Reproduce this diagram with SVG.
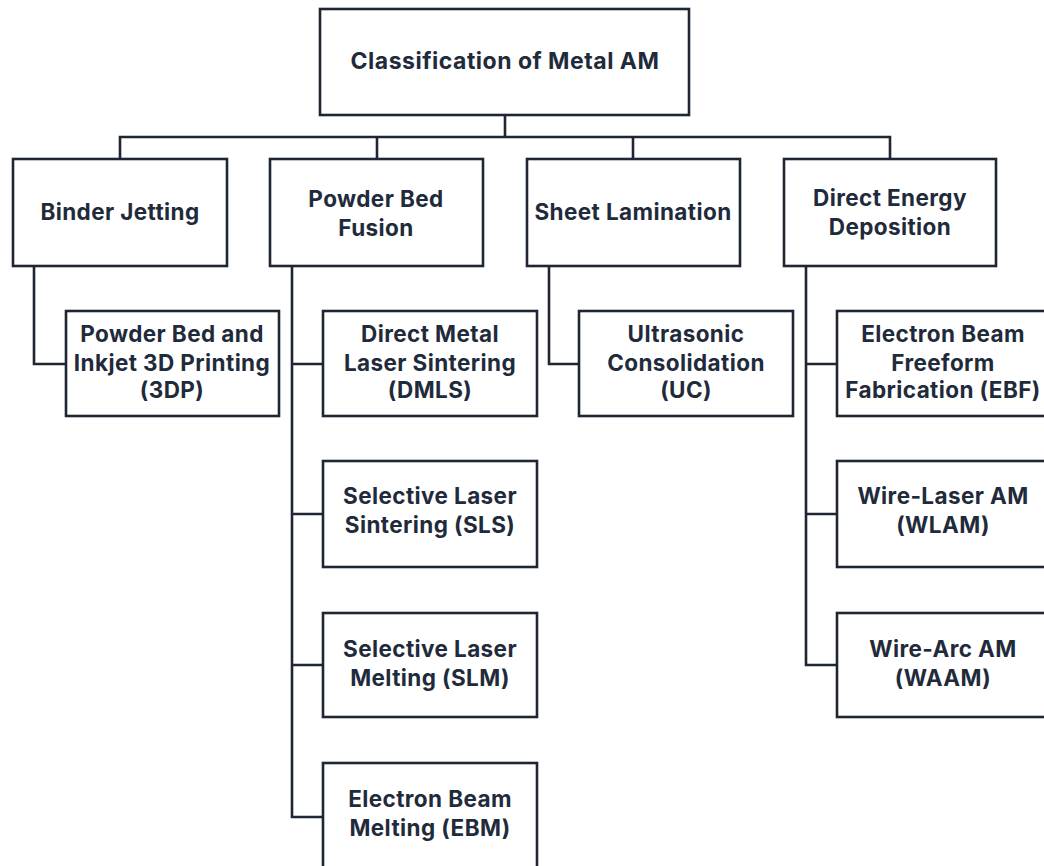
<svg xmlns="http://www.w3.org/2000/svg" width="1044" height="866" viewBox="0 0 1044 866">
<style>
.box{fill:#ffffff;stroke:#1e2633;stroke-width:2.6}
.lbl{font-family:Inter,"Open Sans","Liberation Sans",sans-serif;font-weight:700;font-size:22.5px;letter-spacing:0.4px;fill:#1f2b3b;text-anchor:middle}
.title{font-size:23px;letter-spacing:0.5px}
.con{fill:none;stroke:#1e2633;stroke-width:2.6;stroke-linejoin:miter}
</style>
<rect width="1044" height="866" fill="#ffffff"/>
<g id="connectors">
<path class="con" d="M505,115 V137 M120,159 V137 H890 V159 M377,137 V159 M633,137 V159"/>
<path class="con" d="M34,266 V364 H66"/>
<path class="con" d="M292,266 V817 H323 M292,364 H323 M292,514 H323 M292,665 H323"/>
<path class="con" d="M549,266 V364 H579"/>
<path class="con" d="M806,266 V665 H837 M806,364 H837 M806,514 H837"/>
</g>
<g id="root"><rect class="box" x="320" y="9" width="369" height="106"/><text class="lbl title" x="505" y="69">Classification of Metal AM</text></g>
<g id="binder-jetting"><rect class="box" x="13" y="159" width="214" height="107"/><text class="lbl" x="120" y="220">Binder Jetting</text></g>
<g id="powder-bed-fusion"><rect class="box" x="270" y="159" width="213" height="107"/><text class="lbl" x="376" y="207">Powder Bed</text><text class="lbl" x="376" y="236">Fusion</text></g>
<g id="sheet-lamination"><rect class="box" x="527" y="159" width="213" height="107"/><text class="lbl" x="633" y="220">Sheet Lamination</text></g>
<g id="direct-energy-deposition"><rect class="box" x="784" y="159" width="212" height="107"/><text class="lbl" x="890" y="206">Direct Energy</text><text class="lbl" x="890" y="235">Deposition</text></g>
<g id="3dp"><rect class="box" x="66" y="311" width="213" height="105"/><text class="lbl" x="172" y="342">Powder Bed and</text><text class="lbl" x="172" y="371">Inkjet 3D Printing</text><text class="lbl" x="172" y="398">(3DP)</text></g>
<g id="dmls"><rect class="box" x="323" y="311" width="214" height="105"/><text class="lbl" x="430" y="342">Direct Metal</text><text class="lbl" x="430" y="371">Laser Sintering</text><text class="lbl" x="430" y="398">(DMLS)</text></g>
<g id="uc"><rect class="box" x="579" y="311" width="214" height="105"/><text class="lbl" x="686" y="342">Ultrasonic</text><text class="lbl" x="686" y="371">Consolidation</text><text class="lbl" x="686" y="398">(UC)</text></g>
<g id="ebf"><rect class="box" x="837" y="311" width="213" height="105"/><text class="lbl" x="943" y="342">Electron Beam</text><text class="lbl" x="943" y="371">Freeform</text><text class="lbl" x="943" y="398">Fabrication (EBF)</text></g>
<g id="sls"><rect class="box" x="323" y="461" width="214" height="106"/><text class="lbl" x="430" y="504">Selective Laser</text><text class="lbl" x="430" y="533">Sintering (SLS)</text></g>
<g id="slm"><rect class="box" x="323" y="613" width="214" height="104"/><text class="lbl" x="430" y="657">Selective Laser</text><text class="lbl" x="430" y="686">Melting (SLM)</text></g>
<g id="ebm"><rect class="box" x="323" y="763" width="214" height="110"/><text class="lbl" x="430" y="807">Electron Beam</text><text class="lbl" x="430" y="836">Melting (EBM)</text></g>
<g id="wlam"><rect class="box" x="837" y="461" width="213" height="106"/><text class="lbl" x="943" y="504">Wire-Laser AM</text><text class="lbl" x="943" y="533">(WLAM)</text></g>
<g id="waam"><rect class="box" x="837" y="613" width="213" height="104"/><text class="lbl" x="943" y="657">Wire-Arc AM</text><text class="lbl" x="943" y="686">(WAAM)</text></g>
</svg>
